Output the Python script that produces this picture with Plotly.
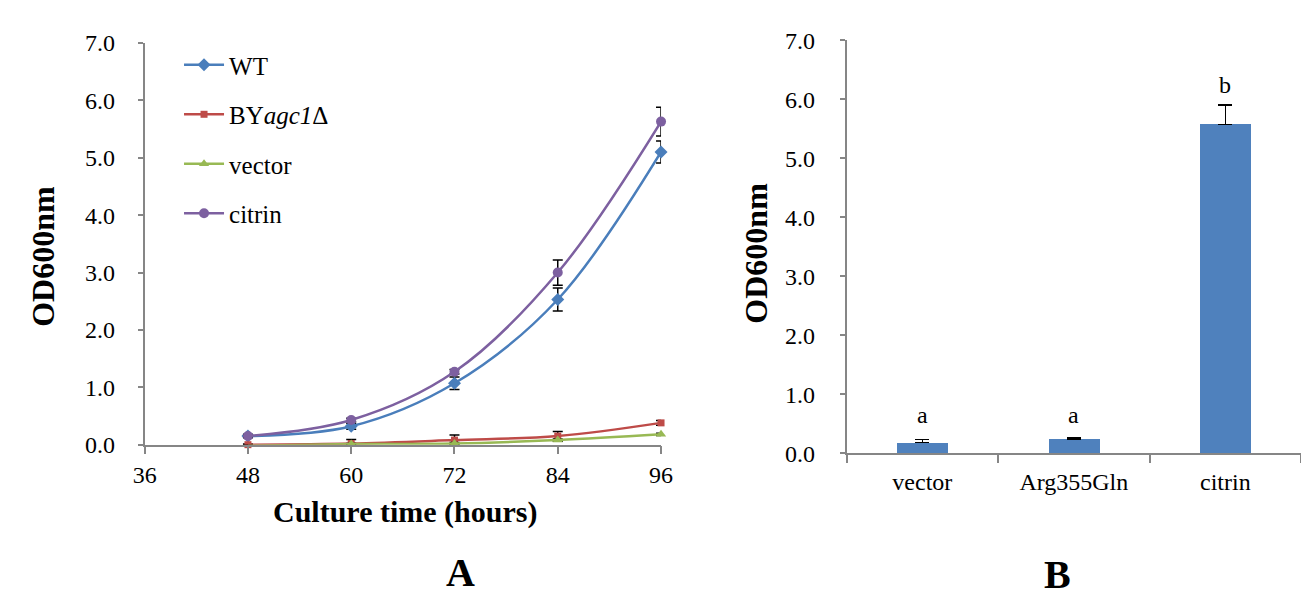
import plotly.graph_objects as go

# ---- Panel A data ----
hours = [48, 60, 72, 84, 96]
wt = [0.15, 0.32, 1.07, 2.53, 5.10]
wt_err = [0.03, 0.05, 0.11, 0.20, 0.19]
by = [0.00, 0.02, 0.08, 0.15, 0.38]
by_err = [0.01, 0.07, 0.09, 0.08, 0.04]
vec = [-0.02, 0.01, 0.02, 0.08, 0.18]
vec_err = [0.01, 0.01, 0.02, 0.02, 0.02]
cit = [0.15, 0.43, 1.27, 3.00, 5.63]
cit_err = [0.02, 0.03, 0.04, 0.22, 0.25]
x_ticks_a = [36, 48, 60, 72, 84, 96]

# ---- Panel B data ----
groups = ["vector", "Arg355Gln", "citrin"]
od = [0.18, 0.24, 5.57]
od_err = [0.05, 0.02, 0.33]
letters = ["a", "a", "b"]
letter_y = [0.65, 0.65, 6.24]

FONT = "Liberation Serif"
AX = "#868686"

fig = go.Figure()

series = [
    ("WT", wt, wt_err, "#4A7EBB", "diamond", 10),
    ("BY<i>agc1</i>Δ", by, by_err, "#BE4B48", "square", 7),
    ("vector", vec, vec_err, "#98B954", "triangle-up", 9),
    ("citrin", cit, cit_err, "#7D60A0", "circle", 10),
]
for i, (name, ys, es, col, sym, sz) in enumerate(series):
    fig.add_trace(go.Scatter(
        x=hours, y=ys, name=name, mode="lines+markers",
        line=dict(color=col, width=2.5, shape="spline", smoothing=1.0),
        marker=dict(symbol=sym, size=sz, color=col),
        error_y=dict(type="data", array=es, color="black", thickness=1.5, width=5),
        xaxis="x", yaxis="y", legendgroup=f"g{i}", cliponaxis=False,
    ))

fig.add_trace(go.Bar(
    x=groups, y=od, marker=dict(color="#4F81BD", line=dict(width=0)),
    width=0.337, showlegend=False,
    error_y=dict(type="data", symmetric=False, array=od_err, arrayminus=[0, 0, 0],
                 color="black", thickness=1.5, width=7),
    xaxis="x2", yaxis="y2",
))

for g, t, yv in zip(groups, letters, letter_y):
    fig.add_annotation(x=g, y=yv, xref="x2", yref="y2", text=t, showarrow=False,
                       xanchor="center", yanchor="middle",
                       font=dict(family=FONT, size=24, color="black"))

tickfont = dict(family=FONT, size=24, color="black")
W, H = 1309, 596

fig.update_layout(
    width=W, height=H, autosize=False,
    margin=dict(l=0, r=0, t=0, b=0),
    paper_bgcolor="white", plot_bgcolor="white",
    font=dict(family=FONT, color="black"),
    xaxis=dict(domain=[127 / W, 653 / W], range=[36, 96], tickvals=x_ticks_a,
               showgrid=False, zeroline=False, showline=True, linecolor=AX, linewidth=1.5,
               ticks="outside", ticklen=8, tickcolor=AX, tickwidth=1.5,
               tickfont=tickfont, ticklabelstandoff=0, anchor="y"),
    yaxis=dict(domain=[1 - 443 / H, 1 - 23 / H], range=[0, 7], dtick=1, tickformat=".1f",
               showgrid=False, zeroline=False, showline=True, linecolor=AX, linewidth=1.5,
               ticks="outside", ticklen=5, tickcolor=AX, tickwidth=1.5,
               tickfont=tickfont, ticklabelstandoff=18, anchor="x"),
    xaxis2=dict(domain=[842 / W, 1305 / W], range=[-0.5, 2.5], type="category",
                showgrid=False, zeroline=False, showline=True, linecolor=AX, linewidth=1.5,
                ticks="outside", tickson="boundaries", ticklen=8, tickcolor=AX, tickwidth=1.5,
                tickfont=tickfont, ticklabelstandoff=6, anchor="y2"),
    yaxis2=dict(domain=[1 - 452 / H, 1 - 20 / H], range=[0, 7], dtick=1, tickformat=".1f",
                showgrid=False, zeroline=False, showline=True, linecolor=AX, linewidth=1.5,
                ticks="outside", ticklen=5, tickcolor=AX, tickwidth=1.5,
                tickfont=tickfont, ticklabelstandoff=20, anchor="x2"),
    legend=dict(x=162 / W, y=1 - 22 / H, xanchor="left", yanchor="top",
                font=dict(family=FONT, size=25, color="black"),
                bgcolor="rgba(0,0,0,0)", traceorder="grouped", tracegroupgap=14,
                itemwidth=40),
    bargap=0,
)

def label(x, y, text, size, angle=0):
    fig.add_annotation(x=x / W, y=1 - y / H, xref="paper", yref="paper", text=text,
                       textangle=angle, showarrow=False, xanchor="center", yanchor="middle",
                       font=dict(family=FONT, size=size, color="black"))

label(24, 246, "<b>OD600nm</b>", 32, -90)
label(750, 243, "<b>OD600nm</b>", 32, -90)
label(392, 513, "<b>Culture time (hours)</b>", 30)
label(449, 577, "<b>A</b>", 40)
label(1057, 579, "<b>B</b>", 40)

fig.write_html("out.html")
